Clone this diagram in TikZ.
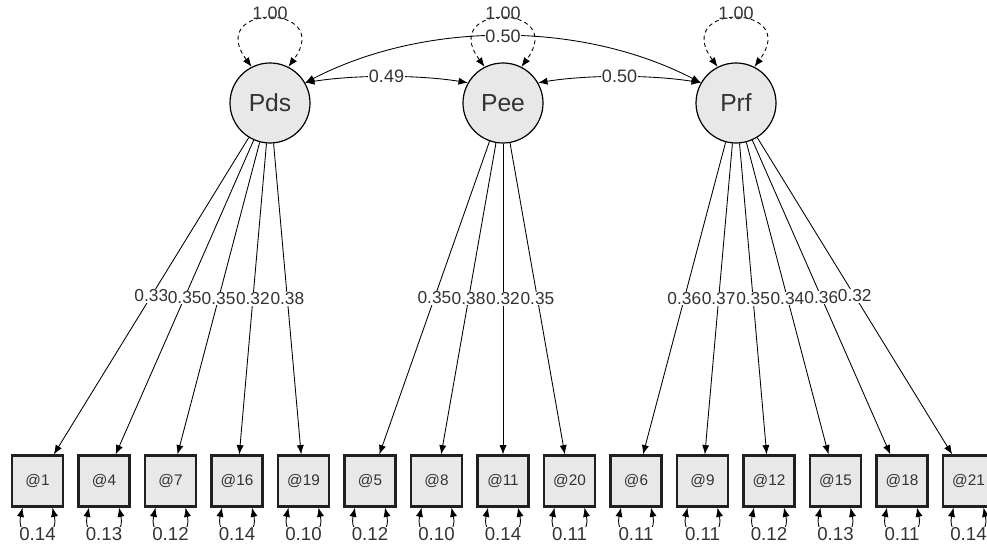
\documentclass[tikz,border=0pt]{standalone}
\usepackage{fontspec}
\setmainfont{Liberation Sans}
\usetikzlibrary{arrows.meta}
\definecolor{txt}{HTML}{333333}
\begin{document}
\begin{tikzpicture}[x=0.75pt,y=0.75pt,
  lat/.style={circle,draw=black,line width=0.9pt,fill=gray!18,minimum size=60pt,inner sep=0pt,text=txt,font=\fontsize{18.5}{20}\selectfont},
  man/.style={rectangle,draw=gray!25!black,line width=1.6pt,fill=gray!18,minimum size=38.25pt,inner sep=0pt,text=txt,font=\fontsize{11.5}{12}\selectfont},
  tip/.tip={Latex[length=7pt,width=5.4pt]},
  load/.style={-tip,line width=0.65pt},
  cov/.style={tip-tip,line width=0.65pt},
  var/.style={tip-tip,line width=0.65pt,dash pattern=on 3pt off 2.5pt},
  resid/.style={tip-tip,line width=0.65pt},
  ll/.style={fill=white,inner sep=0.4pt,text=txt,font=\fontsize{13}{14}\selectfont},
  cl/.style={fill=white,inner sep=0.6pt,text=txt,font=\fontsize{13.5}{14}\selectfont},
  rl/.style={fill=white,inner sep=0.6pt,text=txt,font=\fontsize{14}{15}\selectfont}]
\useasboundingbox (0,0) rectangle (987,546);
\fill[white] (0,0) rectangle (987,546);

% latent variables
\node[lat] (Pds) at (270,443) {Pds};
\node[lat] (Pee) at (503,443) {Pee};
\node[lat] (Prf) at (736,443) {Prf};

% indicators with residual loops
\foreach \n/\v [count=\i from 0] in {1/0.14,4/0.13,7/0.12,16/0.14,19/0.10,5/0.12,8/0.10,11/0.14,20/0.11,6/0.11,9/0.11,12/0.12,15/0.13,18/0.11,21/0.14} {
  \node[man] (q\n) at ({37.5+66.5*\i},65) {@\n};
  \draw[resid] ([xshift=-11.25pt]q\n.south) .. controls +(-8,-36) and +(8,-36) .. ([xshift=11.25pt]q\n.south);
  \node[rl] (r\n) at ({37.5+66.5*\i},11.5) {\v};
}

% variance loops of latents
\foreach \l in {Pds,Pee,Prf} {
  \draw[var] (\l.117) .. controls +(-47,64) and +(47,64) .. node[cl,fill=none,yshift=4pt]{1.00} (\l.63);
}

% covariances
\draw[cov] (Pds.30) .. controls +(120,62) and +(-120,62) .. node[cl]{0.50} (Prf.150);
\draw[cov] (Pds.30) .. controls +(50,8) and +(-50,8) .. node[cl]{0.49} (Pee.150);
\draw[cov] (Pee.30) .. controls +(50,8) and +(-50,8) .. node[cl]{0.50} (Prf.150);

% loadings
\draw[load] (Pds) -- node[ll]{0.33} (q1);
\draw[load] (Pds) -- node[ll]{0.35} (q4);
\draw[load] (Pds) -- node[ll]{0.35} (q7);
\draw[load] (Pds) -- node[ll]{0.32} (q16);
\draw[load] (Pds) -- node[ll]{0.38} (q19);
\draw[load] (Pee) -- node[ll]{0.35} (q5);
\draw[load] (Pee) -- node[ll]{0.38} (q8);
\draw[load] (Pee) -- node[ll]{0.32} (q11);
\draw[load] (Pee) -- node[ll]{0.35} (q20);
\draw[load] (Prf) -- node[ll]{0.36} (q6);
\draw[load] (Prf) -- node[ll]{0.37} (q9);
\draw[load] (Prf) -- node[ll]{0.35} (q12);
\draw[load] (Prf) -- node[ll]{0.34} (q15);
\draw[load] (Prf) -- node[ll]{0.36} (q18);
\draw[load] (Prf) -- node[ll]{0.32} (q21);
\end{tikzpicture}
\end{document}
